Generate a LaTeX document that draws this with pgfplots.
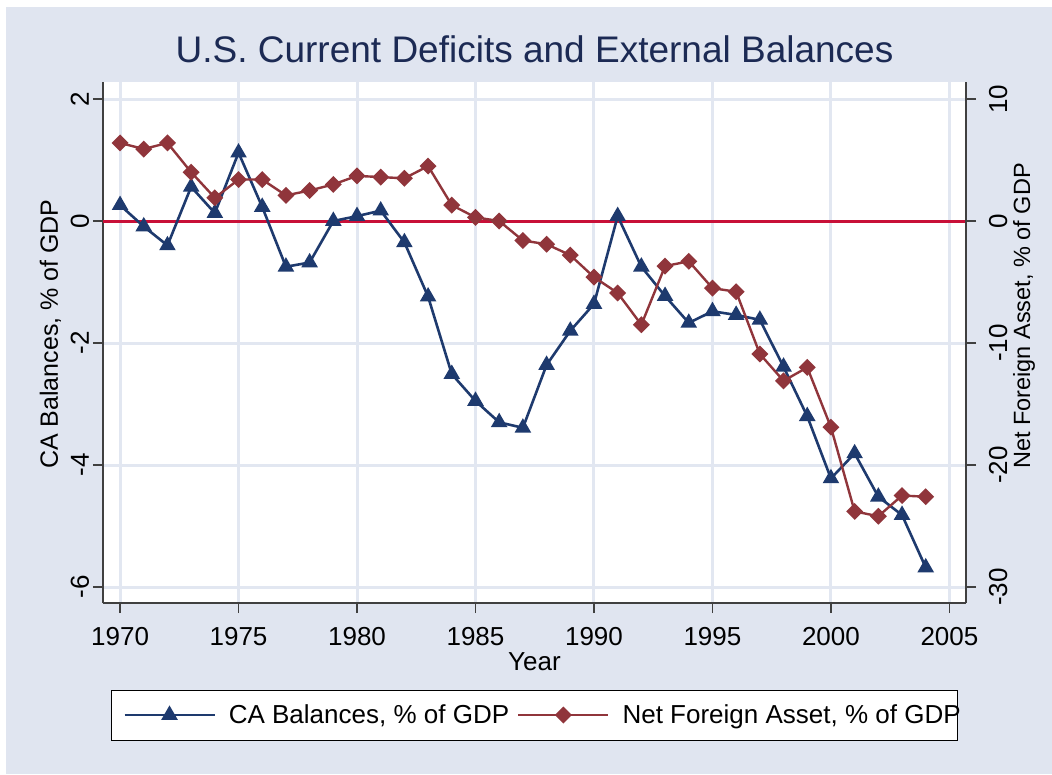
\documentclass[border=0pt]{standalone}
\usepackage{fontspec}
\setmainfont{Liberation Sans}
\usepackage{pgfplots}
\pgfplotsset{compat=1.18}
\definecolor{bgc}{RGB}{224,229,240}
\definecolor{gridc}{RGB}{226,231,241}
\definecolor{canavy}{RGB}{30,58,110}
\definecolor{nfamaroon}{RGB}{144,53,59}
\definecolor{zeroline}{RGB}{200,16,56}
\definecolor{titlec}{RGB}{28,42,84}
\definecolor{axc}{RGB}{64,64,64}

\pgfplotstableread{
year ca
1970 0.26
1971 -0.09
1972 -0.40
1973 0.56
1974 0.13
1975 1.12
1976 0.23
1977 -0.75
1978 -0.68
1979 0.00
1980 0.08
1981 0.17
1982 -0.35
1983 -1.24
1984 -2.51
1985 -2.95
1986 -3.30
1987 -3.39
1988 -2.36
1989 -1.80
1990 -1.36
1991 0.08
1992 -0.75
1993 -1.23
1994 -1.67
1995 -1.48
1996 -1.54
1997 -1.62
1998 -2.39
1999 -3.20
2000 -4.22
2001 -3.81
2002 -4.52
2003 -4.82
2004 -5.68
}\catable

\pgfplotstableread{
year nfa
1970 6.4
1971 5.9
1972 6.4
1973 4.0
1974 1.9
1975 3.4
1976 3.4
1977 2.1
1978 2.5
1979 3.0
1980 3.7
1981 3.6
1982 3.5
1983 4.5
1984 1.3
1985 0.3
1986 0.0
1987 -1.6
1988 -1.9
1989 -2.8
1990 -4.6
1991 -5.9
1992 -8.5
1993 -3.7
1994 -3.3
1995 -5.5
1996 -5.8
1997 -10.9
1998 -13.1
1999 -12.0
2000 -16.9
2001 -23.8
2002 -24.2
2003 -22.5
2004 -22.6
}\nfatable

\newcommand{\fs}{\fontsize{26}{30}\selectfont}

\begin{document}
\begin{tikzpicture}
\useasboundingbox (-103pt,-171pt) rectangle (949pt,603pt);
\fill[white] (-103pt,-171pt) rectangle (949pt,603pt);
\fill[bgc] (-97pt,-171pt) rectangle (949pt,596pt);
% legend frame
\draw[black, line width=1pt, fill=white] (9pt,-87pt) rectangle (854pt,-137pt);

\pgfplotsset{
  common/.style={
    scale only axis, width=863pt, height=521pt,
    at={(0pt,0pt)}, anchor=south west,
    xmin=1969.28, xmax=2005.70,
    axis line style={axc, line width=1.4pt},
    tick style={axc, line width=1.2pt},
    major tick length=10pt, tick align=outside,
    ticklabel style={font=\fs, inner sep=0pt},
  },
  legend image code/.code={
    \draw[mark repeat=2, mark phase=2, #1]
      plot coordinates {(0pt,0pt) (45pt,0pt) (90pt,0pt)};
  },
}

\begin{axis}[common,
  axis background/.style={fill=white},
  axis x line*=bottom, axis y line*=left,
  ymin=-6.262, ymax=2.279,
  xtick={1970,1975,...,2005},
  xticklabels={1970,1975,1980,1985,1990,1995,2000,2005},
  ytick={-6,-4,-2,0,2},
  yticklabels={-6,-4,-2,0,2},
  xticklabel style={anchor=base, yshift=-32pt},
  yticklabel style={rotate=90, anchor=base, yshift=4pt},
  grid=major, major grid style={gridc, line width=3pt},
  clip=false,
  title={U.S. Current Deficits and External Balances},
  title style={at={(0.5,0)}, anchor=base, yshift=534pt, font=\fontsize{37}{40}\selectfont, text=titlec, inner sep=0pt},
  xlabel={Year},
  every axis x label/.style={at={(rel axis cs:0.5,0)}, anchor=base, yshift=-67pt, font=\fs, inner sep=0pt},
  ylabel={CA Balances, \% of GDP},
  every axis y label/.style={at={(rel axis cs:0,0.257)}, rotate=90, anchor=base west, yshift=45pt, font=\fontsize{25}{28}\selectfont, inner sep=0pt},
  legend columns=2,
  legend cell align=left,
  legend style={at={(rel axis cs:0.0232,-0.215)}, anchor=west, draw=none, fill=none,
    inner sep=0pt, font=\fs,
    nodes={inner sep=0pt},
    /tikz/every odd column/.style={column sep=13pt},
    /tikz/column 2/.style={column sep=8pt}},
]
\draw[zeroline, line width=3pt] (axis cs:1969.28,0) -- (axis cs:2005.70,0);
\addplot[canavy, line width=2.6pt, mark=triangle*, mark size=7pt,
  mark options={solid}] table[x=year, y=ca] {\catable};
\addlegendentry{CA Balances, \% of GDP}
\addlegendimage{nfamaroon, line width=2.4pt, mark=square*, mark size=4.8pt, mark options={rotate=45}}
\addlegendentry{Net Foreign Asset, \% of GDP}
\end{axis}

\begin{axis}[common,
  axis x line=none, axis y line*=right,
  ymin=-31.31, ymax=11.395,
  ytick={-30,-20,-10,0,10},
  yticklabels={-30,-20,-10,0,10},
  yticklabel style={rotate=90, anchor=base, yshift=-31pt},
  clip=false,
  ylabel={Net Foreign Asset, \% of GDP},
  every axis y label/.style={at={(rel axis cs:1,0.257)}, rotate=90, anchor=base west, yshift=-64pt, font=\fontsize{23.5}{26}\selectfont, inner sep=0pt},
]
\addplot[nfamaroon, line width=2.4pt, mark=square*, mark size=4.8pt,
  mark options={rotate=45}] table[x=year, y=nfa] {\nfatable};
\end{axis}
\end{tikzpicture}
\end{document}
